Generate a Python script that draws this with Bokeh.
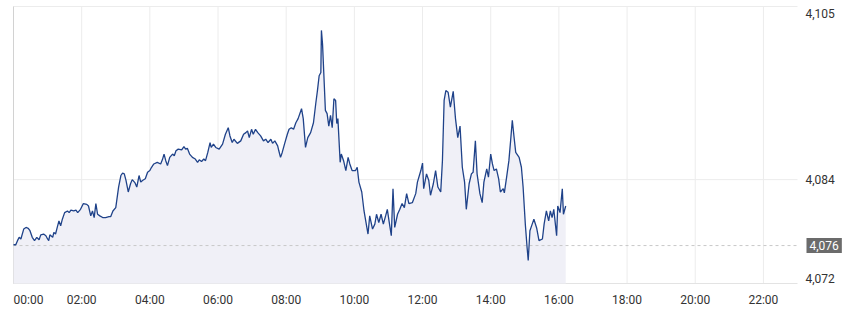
from bokeh.plotting import figure
from bokeh.models import Range1d
from bokeh.core.properties import value
from bokeh.embed import file_html
from bokeh.resources import INLINE

# time in minutes since 00:00
minutes = [0, 4, 7, 10, 13, 18, 22, 26, 29, 33, 37, 41, 45, 48, 53, 57, 60, 62, 64, 69,
           71, 74, 77, 80, 83, 86, 90, 95, 98, 101, 106, 110, 113, 118, 123, 129, 132, 136, 139, 142,
           145, 148, 152, 157, 162, 168, 171, 175, 180, 185, 189, 192, 195, 198, 202, 206, 209, 214, 217, 221,
           224, 227, 232, 236, 240, 243, 247, 253, 259, 262, 265, 268, 271, 275, 280, 283, 286, 290, 296, 300,
           303, 306, 310, 315, 320, 324, 327, 331, 335, 338, 342, 346, 348, 352, 356, 362, 368, 373, 378, 381,
           385, 388, 394, 400, 405, 409, 412, 415, 419, 422, 426, 430, 435, 440, 444, 448, 453, 456, 460, 465,
           467, 470, 473, 477, 482, 485, 489, 493, 497, 501, 507, 510, 514, 518, 523, 528, 532, 535, 538, 541,
           542, 544, 547, 549, 552, 555, 558, 561, 564, 567, 569, 571, 575, 577, 581, 585, 589, 592, 596, 602,
           605, 608, 613, 617, 620, 624, 627, 632, 636, 639, 643, 647, 651, 655, 658, 661, 665, 668, 671, 676,
           680, 684, 688, 692, 696, 702, 708, 711, 717, 720, 722, 727, 731, 734, 739, 743, 747, 752, 755, 758,
           761, 765, 769, 774, 778, 782, 786, 790, 794, 797, 802, 806, 809, 813, 816, 821, 825, 828, 833, 836,
           840, 843, 846, 850, 854, 857, 862, 864, 868, 872, 875, 878, 881, 884, 890, 894, 897, 901, 904, 906,
           909, 913, 916, 921, 925, 931, 934, 938, 942, 945, 948, 951, 956, 958, 962, 966, 968, 972]

prices = [4076.1, 4076.1, 4076.6, 4077.0, 4076.8, 4078.0, 4078.2, 4078.1, 4077.8, 4077.0,
          4076.6, 4077.0, 4076.7, 4077.3, 4077.4, 4077.2, 4076.8, 4076.6, 4077.3, 4077.0,
          4077.6, 4077.4, 4078.2, 4079.0, 4078.4, 4079.2, 4080.0, 4080.2, 4080.0, 4080.3,
          4080.2, 4080.3, 4080.0, 4080.4, 4081.1, 4081.0, 4080.8, 4079.6, 4080.2, 4079.4,
          4081.1, 4079.8, 4079.6, 4079.4, 4079.4, 4079.5, 4079.5, 4080.2, 4080.6, 4083.1,
          4084.5, 4084.8, 4084.7, 4083.9, 4082.5, 4083.5, 4084.0, 4083.6, 4083.1, 4084.5,
          4083.7, 4083.9, 4084.1, 4084.9, 4085.1, 4085.5, 4085.9, 4086.1, 4085.9, 4086.4,
          4087.1, 4086.3, 4085.7, 4086.7, 4087.1, 4086.9, 4087.5, 4087.7, 4087.6, 4088.0,
          4087.7, 4087.8, 4087.1, 4086.7, 4086.5, 4086.1, 4086.4, 4086.2, 4086.5, 4086.3,
          4087.3, 4088.5, 4087.9, 4088.3, 4087.9, 4087.7, 4088.3, 4089.5, 4090.3, 4089.3,
          4088.5, 4088.9, 4088.4, 4088.7, 4089.5, 4089.7, 4089.9, 4089.1, 4090.1, 4089.5,
          4090.1, 4089.7, 4089.3, 4088.7, 4088.9, 4088.5, 4088.9, 4088.4, 4088.7, 4088.1,
          4087.5, 4086.7, 4087.3, 4088.3, 4089.5, 4090.1, 4090.3, 4090.1, 4090.9, 4091.4,
          4092.6, 4091.4, 4087.9, 4089.1, 4089.7, 4090.9, 4093.2, 4094.8, 4096.6, 4097.0,
          4102.1, 4100.4, 4095.6, 4092.4, 4092.0, 4090.5, 4091.8, 4090.3, 4093.8, 4093.6,
          4090.8, 4091.4, 4086.1, 4087.1, 4086.3, 4085.1, 4086.7, 4085.9, 4085.1, 4085.1,
          4085.5, 4083.7, 4082.5, 4080.2, 4079.0, 4077.4, 4079.6, 4078.0, 4078.6, 4079.8,
          4078.8, 4079.8, 4078.6, 4079.6, 4080.4, 4079.0, 4077.2, 4082.9, 4078.2, 4079.8,
          4080.4, 4081.1, 4080.6, 4082.3, 4081.1, 4081.2, 4082.3, 4083.7, 4085.1, 4086.0,
          4082.9, 4084.7, 4083.9, 4082.1, 4083.5, 4085.1, 4083.1, 4082.5, 4086.3, 4093.6,
          4094.8, 4094.6, 4092.8, 4094.7, 4091.4, 4089.1, 4090.5, 4085.5, 4083.7, 4080.4,
          4083.5, 4084.7, 4084.9, 4088.7, 4084.7, 4082.3, 4081.2, 4083.7, 4085.3, 4084.3,
          4087.1, 4085.9, 4085.1, 4085.3, 4084.1, 4082.5, 4082.9, 4082.4, 4084.3, 4086.3,
          4088.7, 4091.2, 4089.2, 4087.3, 4086.7, 4085.5, 4083.1, 4078.5, 4075.8, 4074.2,
          4077.8, 4078.6, 4079.2, 4078.1, 4076.6, 4076.8, 4078.6, 4080.2, 4079.0, 4080.2,
          4079.4, 4080.4, 4077.2, 4080.8, 4080.0, 4082.9, 4079.8, 4080.8]

x_ticks = [0, 120, 240, 360, 480, 600, 720, 840, 960, 1080, 1200, 1320]
x_labels = ["00:00", "02:00", "04:00", "06:00", "08:00", "10:00",
            "12:00", "14:00", "16:00", "18:00", "20:00", "22:00"]
y_ticks = [4072, 4084]
y_high = 4105
prev_close = 4076

# plotting window (chart area spans 00:00..23:00, 4071.4..4105)
X_END = 1380
Y_START = 4071.4
PX_PER_MIN = 784.0 / X_END
PX_PER_UNIT = 277.0 / (y_high - Y_START)
x_lo = -13 / PX_PER_MIN
x_hi = X_END + 56 / PX_PER_MIN
y_hi = y_high + 6 / PX_PER_UNIT
y_lo = Y_START - 27 / PX_PER_UNIT

FONT = value("Roboto")
TXT = "#333333"
GRID = "#ececec"

p = figure(width=853, height=310, output_backend="svg", toolbar_location=None,
           x_range=Range1d(x_lo, x_hi), y_range=Range1d(y_lo, y_hi),
           min_border=0, x_axis_location=None, y_axis_location=None)
p.outline_line_color = None
p.grid.visible = False
p.background_fill_color = "white"
p.border_fill_color = "white"

# grid lines
p.segment(x0=x_ticks, y0=Y_START, x1=x_ticks, y1=y_high, line_color=GRID, line_width=1)
p.segment(x0=0, y0=[4084, y_high], x1=X_END, y1=[4084, y_high], line_color=GRID, line_width=1)
p.segment(x0=0, y0=Y_START, x1=X_END, y1=Y_START, line_color="#e3e3e3", line_width=1)
p.segment(x0=0, y0=Y_START, x1=0, y1=y_high, line_color="#d2d2d2", line_width=1)

# area + line
p.varea(x=minutes, y1=Y_START, y2=prices, fill_color="#f0f0f7", fill_alpha=1.0)
p.segment(x0=0, y0=prev_close, x1=X_END, y1=prev_close, line_color="#c8c8c8",
          line_dash="3 3", line_width=1)
p.line(minutes, prices, line_color="#1f4289", line_width=1.3)

# x tick labels
aligns = ["left"] + ["center"] * (len(x_ticks) - 1)
p.text(x=x_ticks, y=Y_START, text=x_labels, text_align=aligns, text_baseline="middle",
       y_offset=16, text_font=FONT, text_font_size="12px", text_color=TXT)

# y tick labels (right)
p.text(x=X_END, y=y_ticks, text=[f"{t:,}" for t in y_ticks], text_align="left",
       text_baseline="middle", x_offset=8, text_font=FONT, text_font_size="12px", text_color=TXT)
p.text(x=X_END, y=y_high, text=[f"{y_high:,}"], text_align="left", text_baseline="middle",
       x_offset=8, y_offset=7, text_font=FONT, text_font_size="12px", text_color=TXT)

# previous close tag
p.text(x=X_END, y=prev_close, text=[f"{prev_close:,}"], text_align="left",
       text_baseline="middle", x_offset=9, text_font=FONT, text_font_size="12px",
       text_color="white", background_fill_color="#6b6b6b", padding=3)

open("out.html", "w").write(file_html(p, INLINE))
